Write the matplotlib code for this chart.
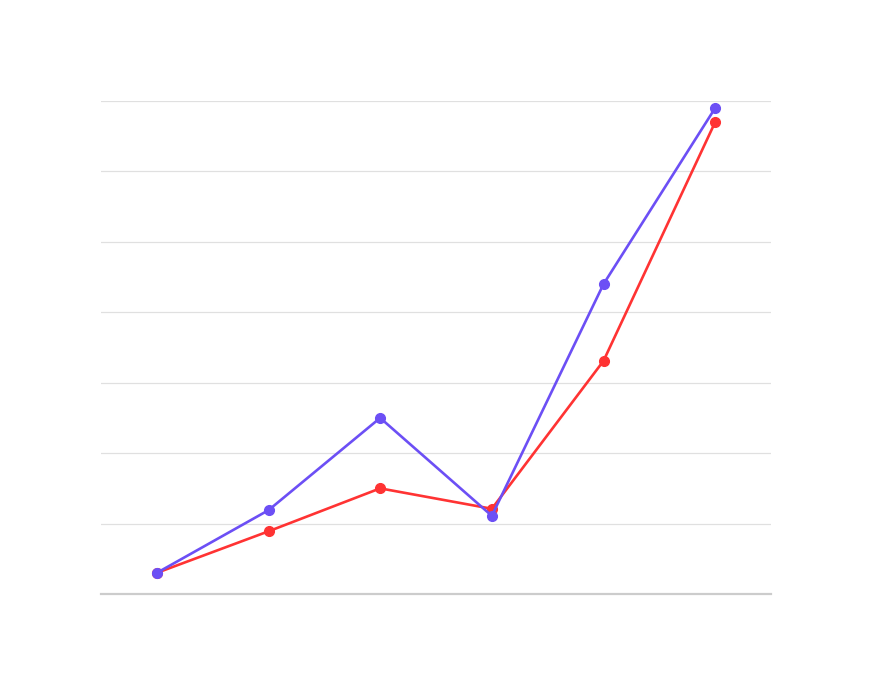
import numpy as np
import matplotlib.pyplot as plt

# series values (y units = grid steps)
categories = np.arange(6)
blue_vals = [0.30, 1.19, 2.50, 1.11, 4.40, 6.90]
red_vals = [0.30, 0.89, 1.50, 1.21, 3.31, 6.70]

W, H = 873, 695
fig = plt.figure(figsize=(W / 100, H / 100), dpi=100)
ax = fig.add_axes([101 / W, 1 - 594 / H, (771 - 101) / W, (594 - 101) / H])

x = categories + 0.5
ax.plot(x, red_vals, color="#ff3333", lw=1.9, marker="o", ms=7, zorder=3)
ax.plot(x, blue_vals, color="#6c4ff5", lw=1.9, marker="o", ms=7, zorder=4)

ax.set_xlim(0, 6)
ax.set_ylim(0, 7)
for y in np.arange(1, 8):
    ax.axhline(y, color="#e0e0e0", lw=0.9, zorder=1)
ax.axhline(0, color="#cccccc", lw=1.6, zorder=2, clip_on=False)

for s in ax.spines.values():
    s.set_visible(False)
ax.set_xticks([])
ax.set_yticks([])

fig.savefig("out.png", dpi=100)
